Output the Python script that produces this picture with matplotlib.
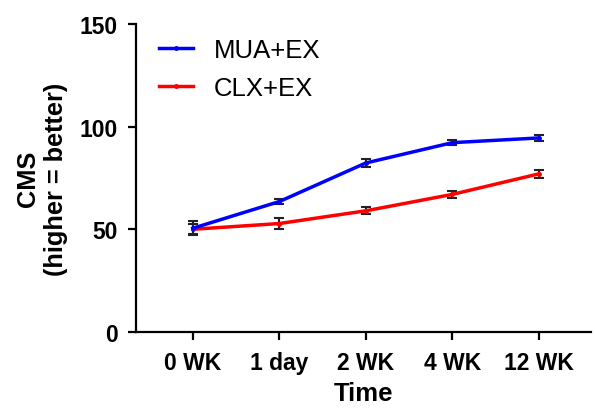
import matplotlib
matplotlib.use("Agg")
import matplotlib.pyplot as plt
from matplotlib.lines import Line2D

categories = ["0 WK", "1 day", "2 WK", "4 WK", "12 WK"]
mua_mean = [50.5, 63.5, 82.3, 92.2, 94.5]
mua_err = [3.5, 1.3, 1.8, 1.3, 1.3]
clx_mean = [50.0, 52.8, 59.0, 67.0, 77.0]
clx_err = [2.5, 2.6, 1.7, 1.7, 2.0]

plt.rcParams['font.family'] = ['Liberation Sans', 'DejaVu Sans']

fig = plt.figure(figsize=(5.95, 4.1), dpi=100)
ax = fig.add_axes([0.228, 0.188, 0.765, 0.751])
x = list(range(len(categories)))

ax.errorbar(x, mua_mean, yerr=mua_err, color='#0000ff', lw=2.5, marker='o', ms=2.5,
            ecolor='#222222', elinewidth=1.5, capsize=3.5, capthick=1.5, zorder=3)
ax.errorbar(x, clx_mean, yerr=clx_err, color='#ff0000', lw=2.5, marker='o', ms=2.5,
            ecolor='#222222', elinewidth=1.5, capsize=3.5, capthick=1.5, zorder=2)

ax.set_xlim(-0.66, 4.6)
ax.set_ylim(0, 150)
ax.set_yticks([0, 50, 100, 150])
ax.set_xticks(x)
ax.set_xticklabels(categories)
for s in ['top', 'right']:
    ax.spines[s].set_visible(False)
for s in ['left', 'bottom']:
    ax.spines[s].set_linewidth(1.6)
ax.tick_params(direction='out', length=6, width=1.6, labelsize=16.5)
ax.tick_params(axis='x', pad=8)
ax.tick_params(axis='y', pad=7)
for lab in ax.get_xticklabels() + ax.get_yticklabels():
    lab.set_fontweight('bold')

ax.set_xlabel('Time', fontsize=18.5, fontweight='bold', labelpad=5)
ax.set_ylabel('CMS\n(higher = better)', fontsize=18.3, fontweight='bold', labelpad=8, linespacing=1.2)

handles = [Line2D([], [], color='#0000ff', lw=2.5, marker='o', ms=2.5),
           Line2D([], [], color='#ff0000', lw=2.5, marker='o', ms=2.5)]
ax.legend(handles, ['MUA+EX', 'CLX+EX'], loc='upper left', bbox_to_anchor=(0.0, 1.03),
          frameon=False, fontsize=18.5, handlelength=1.35, handletextpad=0.8, labelspacing=0.55)

fig.savefig('out.png', dpi=100)
